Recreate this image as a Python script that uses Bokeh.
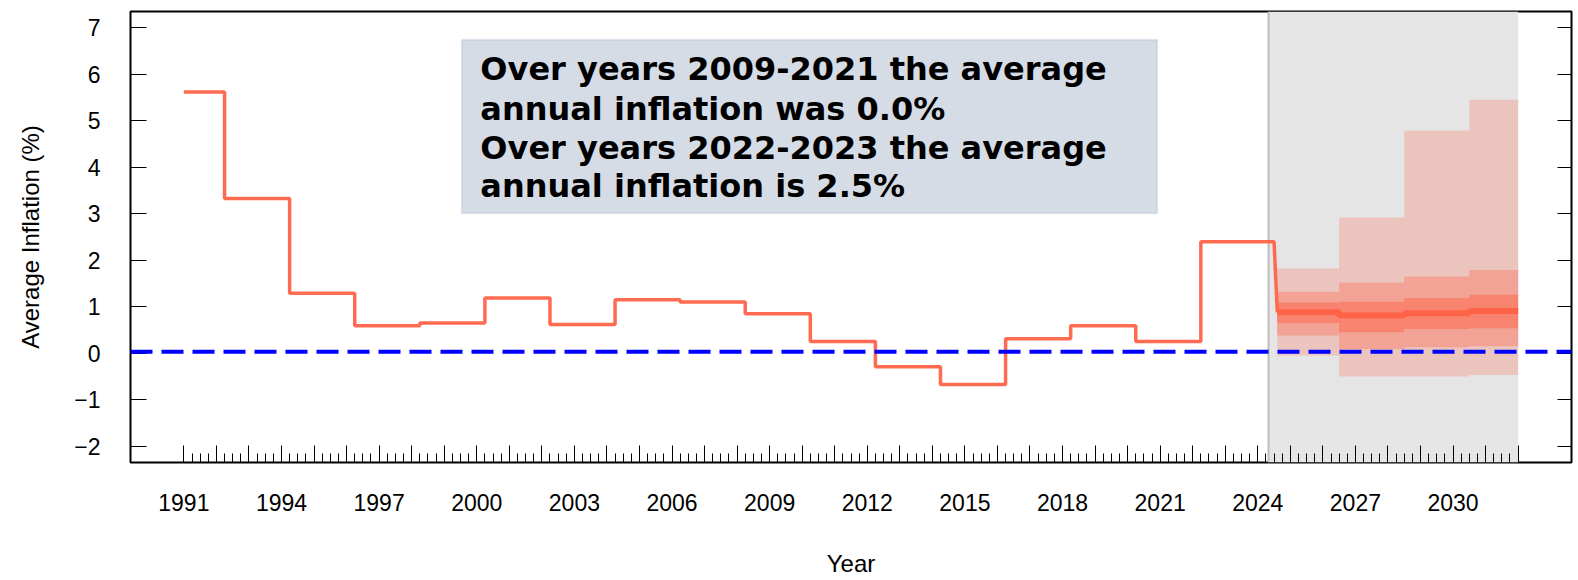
from bokeh.plotting import figure
from bokeh.models import Range1d, FixedTicker, LinearAxis, BoxAnnotation, Span, Label
from bokeh.embed import file_html
from bokeh.resources import INLINE

# ---------------- data ----------------
hist_breaks = [1991.0, 1992.25, 1994.25, 1996.25, 1998.25, 2000.25, 2002.25, 2004.25,
               2006.25, 2008.25, 2010.25, 2012.25, 2014.25, 2016.25, 2018.25, 2020.25,
               2022.25, 2024.5]
hist_values = [5.62, 3.33, 1.29, 0.59, 0.65, 1.19, 0.62, 1.15, 1.10, 0.85, 0.25,
               -0.29, -0.67, 0.31, 0.59, 0.25, 2.40]

fc_breaks = [2024.6, 2026.5, 2028.5, 2030.5, 2032.0]
fc_median = [0.88, 0.81, 0.86, 0.91]
fc_inner_lo = [0.65, 0.45, 0.52, 0.54]
fc_inner_hi = [1.09, 1.11, 1.19, 1.26]
fc_mid_lo = [0.38, 0.09, 0.13, 0.15]
fc_mid_hi = [1.32, 1.52, 1.65, 1.79]
fc_outer_lo = [-0.05, -0.50, -0.50, -0.47]
fc_outer_hi = [1.82, 2.92, 4.79, 5.45]

forecast_start = 2024.33
forecast_end = 2032.0
mean_level = 0.03

tick_years = list(range(1991, 2033))
labeled_years = list(range(1991, 2031, 3))
y_ticks = list(range(-2, 8))

box_lines = ["Over years 2009-2021 the average",
             "annual inflation was 0.0%",
             "Over years 2022-2023 the average",
             "annual inflation is 2.5%"]


def steps(breaks, vals):
    xs, ys = [], []
    for i, v in enumerate(vals):
        xs += [breaks[i], breaks[i + 1]]
        ys += [v, v]
    return xs, ys


# ---------------- figure ----------------
p = figure(width=1578, height=580,
           x_range=Range1d(1989.36, 2033.64), y_range=Range1d(-2.35, 7.35),
           output_backend="svg", toolbar_location=None,
           min_border_left=130, min_border_right=7, min_border_top=11, min_border_bottom=118,
           background_fill_color="white", border_fill_color="white")
p.grid.visible = False
p.outline_line_color = "black"
p.outline_line_width = 2

TF = "Liberation Sans"

# bottom tick axis (ticks only, every year + quarters)
xa = p.xaxis[0]
quarters = [y + q for y in tick_years[:-1] for q in (0.25, 0.5, 0.75)]
xa.ticker = FixedTicker(ticks=tick_years, minor_ticks=quarters)
xa.major_tick_in = 17
xa.major_tick_out = 0
xa.minor_tick_in = 9
xa.minor_tick_out = 0
xa.major_tick_line_color = "black"
xa.minor_tick_line_color = "black"
xa.axis_line_color = None
xa.major_label_text_font_size = "0px"
xa.major_label_text_color = None
xa.major_label_standoff = 0

# bottom label axis (labels every 3 years)
xb = LinearAxis(ticker=FixedTicker(ticks=labeled_years, minor_ticks=[]),
                major_tick_in=0, major_tick_out=0, major_tick_line_color=None,
                minor_tick_line_color=None, axis_line_color=None,
                major_label_standoff=31, major_label_text_font=TF,
                major_label_text_font_size="23px", major_label_text_color="black",
                axis_label="Year", axis_label_text_font=TF,
                axis_label_text_font_size="24px", axis_label_text_font_style="normal",
                axis_label_text_color="black", axis_label_standoff=36)
p.add_layout(xb, "below")

ya = p.yaxis[0]
ya.ticker = FixedTicker(ticks=y_ticks, minor_ticks=[])
ya.major_tick_in = 16
ya.major_tick_out = 0
ya.major_tick_line_color = "black"
ya.minor_tick_line_color = None
ya.axis_line_color = None
ya.major_label_standoff = 30
ya.major_label_text_font = TF
ya.major_label_text_font_size = "23px"
ya.major_label_text_color = "black"
ya.axis_label = "Average Inflation (%)"
ya.axis_label_text_font = TF
ya.axis_label_text_font_size = "24px"
ya.axis_label_text_font_style = "normal"
ya.axis_label_text_color = "black"
ya.axis_label_standoff = 27

ra = LinearAxis(ticker=FixedTicker(ticks=y_ticks, minor_ticks=[]),
                major_tick_in=14, major_tick_out=0, minor_tick_line_color=None,
                major_tick_line_color="black", axis_line_color=None,
                major_label_text_font_size="0px", major_label_text_color=None,
                major_label_standoff=0)
p.add_layout(ra, "right")

# forecast shaded region
p.add_layout(BoxAnnotation(left=forecast_start, right=forecast_end,
                           fill_color="#e5e5e5", fill_alpha=1.0, line_color=None,
                           level="underlay"))
p.add_layout(Span(location=forecast_start, dimension="height",
                  line_color="#bdbdbd", line_width=2, level="underlay"))

# bands
for lo, hi, col in [(fc_outer_lo, fc_outer_hi, "#ebc4be"),
                    (fc_mid_lo, fc_mid_hi, "#f2a395"),
                    (fc_inner_lo, fc_inner_hi, "#f8846f")]:
    bx, blo = steps(fc_breaks, lo)
    _, bhi = steps(fc_breaks, hi)
    p.varea(x=bx, y1=blo, y2=bhi, fill_color=col, fill_alpha=1.0)

mx, my = steps(fc_breaks, fc_median)
p.line(mx, my, line_color="#fe6347", line_width=6)

hx, hy = steps(hist_breaks, hist_values)
hx.append(fc_breaks[0])
hy.append(fc_median[0])
p.line(hx, hy, line_color="#ff6347", line_width=3.5, line_alpha=0.95)

# mean line
p.add_layout(Span(location=mean_level, dimension="width", line_color="#0000ff",
                  line_width=4, line_dash="22 9"))

# text box
p.add_layout(BoxAnnotation(left=1999.54, right=2020.91, bottom=3.01, top=6.74,
                           fill_color="#d5dce6", fill_alpha=1.0,
                           line_color="#a9b5ca", line_width=2))
line_y = [6.12, 5.25, 4.42, 3.60]
for txt, yy in zip(box_lines, line_y):
    p.add_layout(Label(x=2000.11, y=yy, text=txt, text_font="DejaVu Sans",
                       text_font_style="bold", text_font_size="32px",
                       text_baseline="middle", text_align="left", text_color="black"))

open("out.html", "w").write(file_html(p, INLINE))
